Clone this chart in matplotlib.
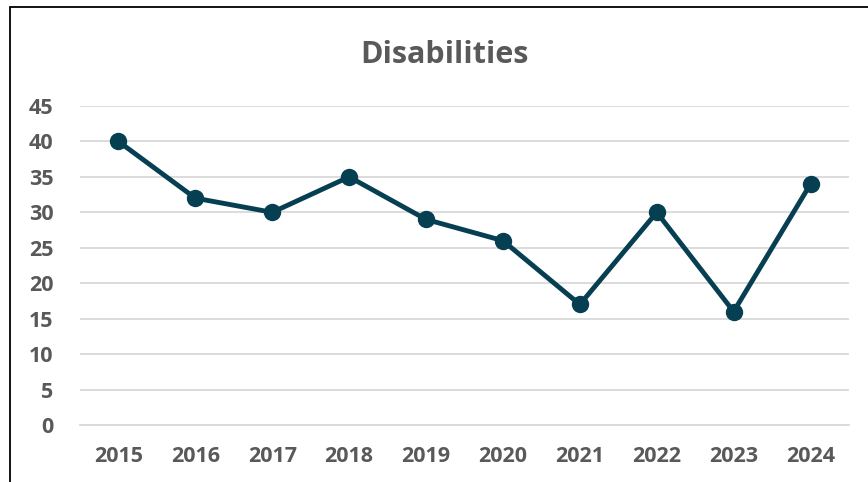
import matplotlib
matplotlib.use("Agg")
import matplotlib.pyplot as plt
from matplotlib.patches import Rectangle

years = ["2015", "2016", "2017", "2018", "2019", "2020", "2021", "2022", "2023", "2024"]
values = [40, 32, 30, 35, 29, 26, 17, 30, 16, 34]
yticks = [0, 5, 10, 15, 20, 25, 30, 35, 40, 45]

W, H = 868, 482
fig = plt.figure(figsize=(W / 100, H / 100), dpi=100)
fig.patch.set_facecolor("white")

# outer border (extends beyond right/bottom edges)
fig.patches.append(Rectangle((10 / W, -0.1), 1.2, 1 - 7 / H + 0.1, transform=fig.transFigure,
                             fill=False, edgecolor="black", linewidth=1.3))

ax = fig.add_axes([80 / W, 1 - 425 / H, (849 - 80) / W, (425 - 106) / H])
x = list(range(len(years)))
ax.plot(x, values, color="#073F52", linewidth=3.5, marker="o", markersize=11.5,
        solid_joinstyle="round", zorder=3)

ax.set_xlim(-0.5, len(years) - 0.5)
ax.set_ylim(0, 45)
ax.set_yticks(yticks)
ax.set_xticks(x)
ax.set_xticklabels(years)
ax.grid(axis="y", color="#D9D9D9", linewidth=1.3)
ax.set_axisbelow(True)
for s in ["top", "right", "left"]:
    ax.spines[s].set_visible(False)
ax.spines["bottom"].set_color("#D9D9D9")
ax.spines["bottom"].set_linewidth(1.3)
ax.tick_params(length=0, labelsize=15.5, labelcolor="#595959", pad=0)
ax.tick_params(axis="x", pad=15)
ax.tick_params(axis="y", pad=19)
for lab in ax.get_xticklabels() + ax.get_yticklabels():
    lab.set_fontweight("bold")
    lab.set_family("Open Sans")

fig.text(444.5 / W, 1 - 55 / H, "Disabilities", ha="center", va="center",
         fontsize=22, fontweight="bold", color="#595959", family="Open Sans")

fig.savefig("out.png", dpi=100, facecolor="white")
